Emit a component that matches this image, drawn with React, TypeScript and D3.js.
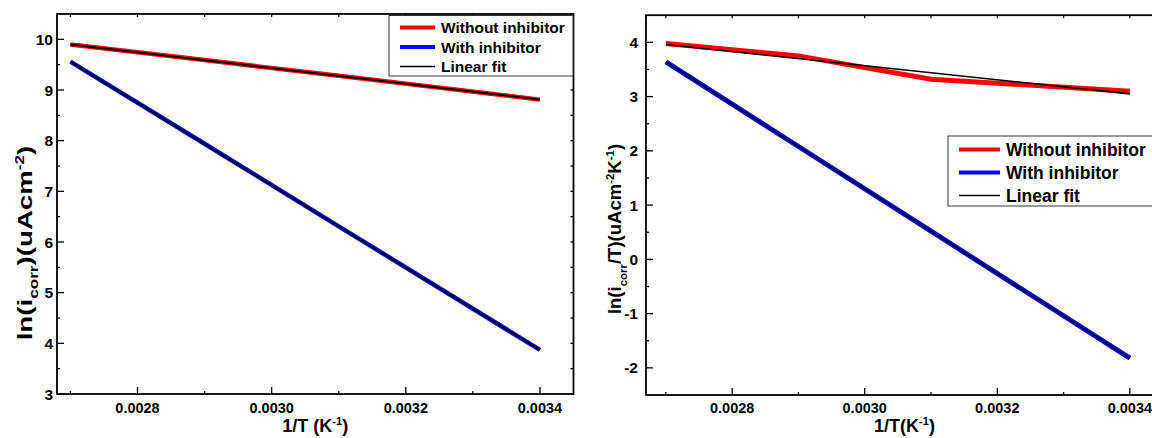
import React, { useRef, useEffect } from 'react';
import * as d3 from 'd3';

// 1/T values of the measured points (K^-1)
const invT = [0.0027, 0.0029, 0.0031, 0.0034];
const fitInvT = [0.0027, 0.0034];

// left panel: ln(icorr)
const lnWithout = [9.9, 9.59, 9.28, 8.81];
const lnWith = [9.56, 7.94, 6.31, 3.87];
const lnWithoutFit = [9.9, 8.81];
const lnWithFit = [9.56, 3.87];

// right panel: ln(icorr/T)
const lnTWithout = [3.98, 3.75, 3.32, 3.1];
const lnTWith = [3.64, 2.08, 0.52, -1.82];
const lnTWithoutFit = [3.96, 3.05];
const lnTWithFit = [3.64, -1.82];

const xTickValues = [0.0028, 0.003, 0.0032, 0.0034];
const leftYTicks = [3, 4, 5, 6, 7, 8, 9, 10];
const rightYTicks = [-2, -1, 0, 1, 2, 3, 4];
const legendLabels = ['Without inhibitor', 'With inhibitor', 'Linear fit'];

const FONT = "'Liberation Sans', Arial, Helvetica, sans-serif";

const App = () => {
  const svgRef = useRef(null);

  useEffect(() => {
    const svg = d3.select(svgRef.current);
    svg.selectAll('*').remove();

    const panels = [
      {
        xDomain: [0.00268, 0.00345],
        xRange: [57, 573.5],
        yDomain: [3, 10.5],
        yRange: [394, 14],
        yTicks: leftYTicks,
        yMinor: d3.range(3.5, 10.5, 1),
        without: lnWithout,
        withInh: lnWith,
        withoutFit: lnWithoutFit,
        withFit: lnWithFit,
        fitOnTopWidth: 2,
        colorWidth: 4.5,
        labelGap: 4,
        yTitle: { x: 32, y: 243, size: 19.5, stretch: 1.42, parts: ['ln(i', 'corr', ')(uAcm', '-2', ')'] },
        xTitle: { space: true },
        legend: { x: 389, y: 15.5, w: 184, h: 60.5, size: 15.5, row: 19.5, lineLen: 35, firstRow: 12 },
      },
      {
        xDomain: [0.00267, 0.00345],
        xRange: [646, 1163],
        yDomain: [-2.5, 4.5],
        yRange: [395, 15.2],
        yTicks: rightYTicks,
        yMinor: d3.range(-1.5, 4.5, 1),
        without: lnTWithout,
        withInh: lnTWith,
        withoutFit: lnTWithoutFit,
        withFit: lnTWithFit,
        fitOnTopWidth: 1.6,
        colorWidth: 5,
        labelGap: 8,
        yTitle: { x: 621, y: 229, size: 18.5, stretch: 1.0, parts: ['ln(i', 'corr', '/T)(uAcm', '-2', 'K', '-1', ')'] },
        xTitle: { space: false },
        legend: { x: 948, y: 136, w: 230, h: 70, size: 17.5, row: 23, lineLen: 41, firstRow: 13.5 },
      },
    ];

    panels.forEach((p) => {
      const x = d3.scaleLinear().domain(p.xDomain).range(p.xRange);
      const y = d3.scaleLinear().domain(p.yDomain).range(p.yRange);
      const [x0, x1] = p.xRange;
      const [yb, yt] = p.yRange;
      const g = svg.append('g');

      const line = d3
        .line()
        .x((d) => x(d[0]))
        .y((d) => y(d[1]));

      const pts = (xs, ys) => xs.map((v, i) => [v, ys[i]]);

      // data lines
      g.append('path')
        .datum(pts(invT, p.without))
        .attr('d', line)
        .attr('fill', 'none')
        .attr('stroke', '#ff0000')
        .attr('stroke-width', p.colorWidth);
      g.append('path')
        .datum(pts(invT, p.withInh))
        .attr('d', line)
        .attr('fill', 'none')
        .attr('stroke', '#0000ff')
        .attr('stroke-width', p.colorWidth);

      // linear fits
      [p.withoutFit, p.withFit].forEach((f) => {
        g.append('path')
          .datum(pts(fitInvT, f))
          .attr('d', line)
          .attr('fill', 'none')
          .attr('stroke', '#000')
          .attr('stroke-width', p.fitOnTopWidth);
      });

      // frame
      g.append('rect')
        .attr('x', x0)
        .attr('y', yt)
        .attr('width', x1 - x0)
        .attr('height', yb - yt)
        .attr('fill', 'none')
        .attr('stroke', '#000')
        .attr('stroke-width', 1.8);

      // ticks
      const xMinor = d3.range(0.0027, 0.00346, 0.0002);
      const tick = (x1_, y1_, x2_, y2_) =>
        g.append('line')
          .attr('x1', x1_).attr('y1', y1_).attr('x2', x2_).attr('y2', y2_)
          .attr('stroke', '#000').attr('stroke-width', 1.3);

      xTickValues.forEach((v) => {
        tick(x(v), yb, x(v), yb - 7);
        tick(x(v), yt, x(v), yt + 3);
      });
      xMinor.forEach((v) => {
        tick(x(v), yb, x(v), yb - 3);
        tick(x(v), yt, x(v), yt + 3);
      });
      p.yTicks.forEach((v) => {
        tick(x0, y(v), x0 + 7, y(v));
        tick(x1, y(v), x1 - 3, y(v));
      });
      p.yMinor.forEach((v) => {
        tick(x0, y(v), x0 + 3, y(v));
        tick(x1, y(v), x1 - 3, y(v));
      });

      // tick labels
      g.selectAll('.xl')
        .data(xTickValues)
        .enter()
        .append('text')
        .attr('x', (d) => x(d))
        .attr('y', 413)
        .attr('text-anchor', 'middle')
        .attr('font-family', FONT)
        .attr('font-weight', 'bold')
        .attr('font-size', 14.5)
        .text((d) => d3.format('.4f')(d));

      g.selectAll('.yl')
        .data(p.yTicks)
        .enter()
        .append('text')
        .attr('x', x0 - p.labelGap)
        .attr('y', (d) => y(d) + 5.5)
        .attr('text-anchor', 'end')
        .attr('font-family', FONT)
        .attr('font-weight', 'bold')
        .attr('font-size', 15.5)
        .text((d) => d);

      // x title
      const xt = g.append('text')
        .attr('x', (x0 + x1) / 2)
        .attr('y', 432)
        .attr('text-anchor', 'middle')
        .attr('font-family', FONT)
        .attr('font-weight', 'bold')
        .attr('font-size', 18);
      xt.append('tspan').text(p.xTitle.space ? '1/T (K' : '1/T(K');
      xt.append('tspan').attr('font-size', 11).attr('dy', -7).text('-1');
      xt.append('tspan').attr('dy', 7).text(')');

      // y title
      const yt_ = p.yTitle;
      const ytext = g.append('text')
        .attr('transform', `translate(${yt_.x},${yt_.y}) rotate(-90) scale(${yt_.stretch},1)`)
        .attr('text-anchor', 'middle')
        .attr('font-family', FONT)
        .attr('font-weight', 'bold')
        .attr('font-size', yt_.size);
      let shift = 0;
      yt_.parts.forEach((s) => {
        const ts = ytext.append('tspan').text(s);
        let target = 0;
        if (s === 'corr') target = yt_.size * 0.3;
        else if (s.startsWith('-')) target = -yt_.size * 0.4;
        if (target !== 0) ts.attr('font-size', yt_.size * 0.62);
        ts.attr('dy', target - shift);
        shift = target;
      });

      // legend
      const L = p.legend;
      g.append('rect')
        .attr('x', L.x)
        .attr('y', L.y)
        .attr('width', L.w)
        .attr('height', L.h)
        .attr('fill', '#fff')
        .attr('stroke', '#333')
        .attr('stroke-width', 1);
      const legendColors = ['#ff0000', '#0000ff', '#000'];
      const legendWidths = [4, 4, 1.5];
      legendLabels.forEach((lab, i) => {
        const ly = L.y + L.firstRow + i * L.row;
        g.append('line')
          .attr('x1', L.x + 11)
          .attr('x2', L.x + 11 + L.lineLen)
          .attr('y1', ly)
          .attr('y2', ly)
          .attr('stroke', legendColors[i])
          .attr('stroke-width', legendWidths[i]);
        g.append('text')
          .attr('x', L.x + 11 + L.lineLen + 6)
          .attr('y', ly + L.size * 0.36)
          .attr('font-family', FONT)
          .attr('font-weight', 'bold')
          .attr('font-size', L.size)
          .text(lab);
      });
    });
  }, []);

  return (
    <svg
      ref={svgRef}
      width={1152}
      height={438}
      style={{ position: 'absolute', left: 0, top: 0, background: '#fff' }}
    ></svg>
  );
};

export default App;
